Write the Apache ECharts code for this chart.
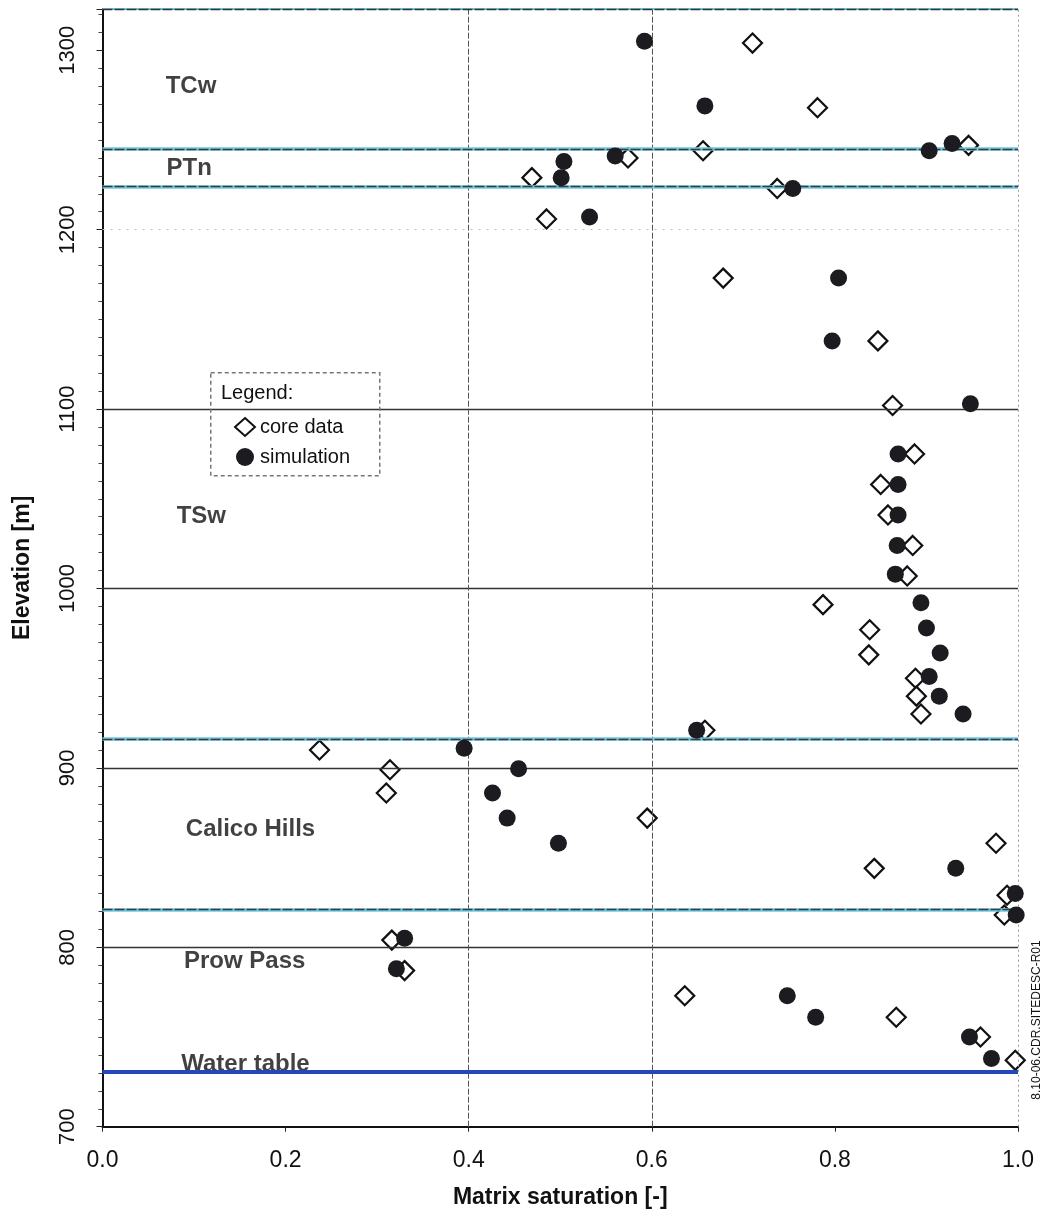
<!DOCTYPE html>
<html><head><meta charset="utf-8">
<script src="https://cdn.jsdelivr.net/npm/echarts@6/dist/echarts.min.js"></script>
<style>html,body{margin:0;padding:0;background:#fff}#c{width:1043px;height:1219px}</style>
</head><body><div id="c"></div>
<script>
// ---- data ----
const coreSat  = [0.710,0.781,0.946,0.656,0.574,0.469,0.737,0.485,0.678,0.847,0.863,0.887,0.850,0.858,0.885,0.879,0.787,0.838,0.837,0.888,0.889,0.894,0.658,0.237,0.314,0.310,0.595,0.976,0.843,0.988,0.985,0.316,0.330,0.636,0.867,0.959,0.997];
const coreElev = [1304,1268,1247,1244,1240,1229,1223,1206,1173,1138,1102,1075,1058,1041,1024,1007,991,977,963,950,940,930,921,910,899,886,872,858,844,829,818,804,787,773,761,750,737];
const simSat   = [0.592,0.658,0.928,0.903,0.560,0.504,0.501,0.754,0.532,0.804,0.797,0.948,0.869,0.869,0.869,0.868,0.866,0.894,0.900,0.915,0.903,0.914,0.940,0.649,0.395,0.4545,0.426,0.442,0.498,0.932,0.997,0.998,0.330,0.321,0.748,0.779,0.947,0.971];
const simElev  = [1305,1269,1248,1244,1241,1238,1229,1223,1207,1173,1138,1103,1075,1058,1041,1024,1008,992,978,964,951,940,930,921,911,899.5,886,872,858,844,830,818,805,788,773,761,750,738];
const xTickLabels = ['0.0','0.2','0.4','0.6','0.8','1.0'];
const yTickLabels = ['700','800','900','1000','1100','1200','1300'];
const gridElev = [800,900,1000,1100];
const faintElev = [1200];
const gridSat = [0.4,0.6];
const layerBounds = [1245,1224,916,821];
const waterTable = 730.7;
const topElev = 1323;
const layerNames = ['TCw','PTn','TSw','Calico Hills','Prow Pass','Water table'];
const layerLabelSat = [0.069,0.070,0.081,0.091,0.089,0.086];
const layerLabelElev = [1280,1234,1040,866,792,735];
const seriesNames = ['core data','simulation'];

// ---- chart ----
const FONT = '"Liberation Sans", Arial, Helvetica, sans-serif';
const chart = echarts.init(document.getElementById('c'), null, {renderer:'canvas'});
const zip = (a,b) => a.map((v,i)=>[v,b[i]]);

const lineData = [];
faintElev.forEach(v => lineData.push({yAxis:v, lineStyle:{color:'#bbb', width:1, type:[2,6]}}));
gridElev.forEach(v => lineData.push({yAxis:v, lineStyle:{color:'#333', width:1.3, type:'solid'}}));
gridSat.forEach(v => lineData.push({xAxis:v, lineStyle:{color:'#555', width:1, type:[6,2]}}));
lineData.push({xAxis:1.0, lineStyle:{color:'#999', width:1, type:[2,3]}});
layerBounds.forEach(v => {
  lineData.push({yAxis:v, lineStyle:{color:'#6fc9e6', width:3.5, type:'solid'}});
  lineData.push({yAxis:v, lineStyle:{color:'#3a3a3a', width:1.3, type:[10,2]}});
});
lineData.push({yAxis:topElev, lineStyle:{color:'#6fc9e6', width:2, type:'solid'}});
lineData.push({yAxis:topElev, lineStyle:{color:'#333', width:1.3, type:[10,2]}});
lineData.push({yAxis:waterTable, lineStyle:{color:'#2448b8', width:4, type:'solid'}});

chart.setOption({
  backgroundColor:'#fff',
  animation:false,
  textStyle:{fontFamily:FONT},
  grid:{left:102.5, right:25, top:9, bottom:92.3, containLabel:false},
  xAxis:{
    type:'value', min:0, max:1, interval:0.2,
    name:'Matrix saturation [-]', nameLocation:'middle', nameGap:59,
    nameTextStyle:{fontFamily:FONT, fontSize:23, fontWeight:'bold', color:'#111'},
    axisLine:{show:true, onZero:false, lineStyle:{color:'#111', width:2}},
    axisTick:{show:true, length:5, lineStyle:{color:'#222', width:1}},
    axisLabel:{fontFamily:FONT, fontSize:23, color:'#111', margin:22,
      formatter:(v)=> xTickLabels[Math.round(v/0.2)] || ''},
    splitLine:{show:false}
  },
  yAxis:{
    type:'value', min:700, max:topElev, interval:100,
    name:'Elevation [m]', nameLocation:'middle', nameGap:68, nameRotate:90,
    nameTextStyle:{fontFamily:FONT, fontSize:23, fontWeight:'bold', color:'#111'},
    axisLine:{show:true, onZero:false, lineStyle:{color:'#111', width:2}},
    axisTick:{show:true, length:6, lineStyle:{color:'#222', width:1}},
    minorTick:{show:true, splitNumber:10, length:4, lineStyle:{color:'#444', width:1}},
    axisLabel:{fontFamily:FONT, fontSize:22, color:'#111', rotate:90, margin:24,
      showMaxLabel:false,
      formatter:(v)=> { const i = yTickLabels.indexOf(String(v)); return i>=0 ? yTickLabels[i] : ''; }},
    splitLine:{show:false}
  },
  legend:{
    orient:'vertical', left:229, top:412, itemWidth:20, itemHeight:18, itemGap:10,
    textStyle:{fontFamily:FONT, fontSize:20, color:'#111'},
    data:[
      {name:seriesNames[0], icon:'diamond', itemStyle:{color:'#fff', borderColor:'#111', borderWidth:2}},
      {name:seriesNames[1], icon:'circle', itemStyle:{color:'#1b1b20'}}
    ]
  },
  graphic:[
    {type:'rect', left:210, top:372, shape:{width:169, height:103},
      style:{fill:'rgba(255,255,255,0)', stroke:'#777', lineWidth:1.5, lineDash:[4,3]}, z:50},
    {type:'text', left:221, top:383, style:{text:'Legend:', font:'20px '+FONT, fill:'#111'}, z:50},
    {type:'text', x:1037, y:1020, rotation:Math.PI/2,
      style:{text:'8.10-06.CDR.SITEDESC-R01', font:'12px '+FONT, fill:'#111', align:'center', verticalAlign:'middle'}, z:50}
  ],
  series:[
    {
      name:'lines', type:'scatter', data:[], z:1, silent:true,
      markLine:{silent:true, symbol:['none','none'], label:{show:false}, animation:false, data:lineData}
    },
    {
      name:'labels', type:'scatter', z:3, silent:true, symbolSize:0,
      data: layerNames.map((n,i)=>({value:[layerLabelSat[i], layerLabelElev[i]], name:n})),
      label:{show:true, position:'right', distance:0, formatter:(p)=>p.name,
        fontFamily:FONT, fontSize:24, fontWeight:'bold', color:'#111', verticalAlign:'middle'}
    },
    {
      name:seriesNames[0], type:'scatter', z:4, symbol:'diamond', symbolSize:[19,19],
      itemStyle:{color:'#fff', borderColor:'#111', borderWidth:2.2, opacity:1},
      data: zip(coreSat, coreElev)
    },
    {
      name:seriesNames[1], type:'scatter', z:5, symbol:'circle', symbolSize:17,
      itemStyle:{color:'#1b1b20', opacity:1},
      data: zip(simSat, simElev)
    }
  ]
});
</script></body></html>
